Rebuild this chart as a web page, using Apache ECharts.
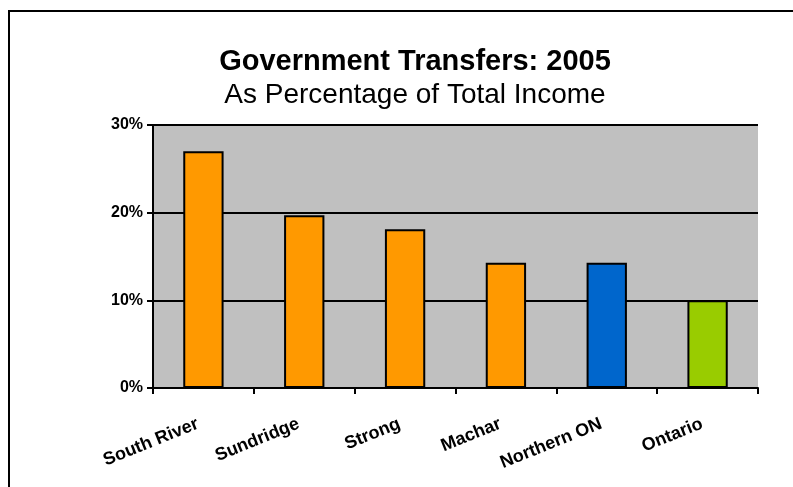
<!DOCTYPE html>
<html>
<head>
<meta charset="utf-8">
<script src="https://cdn.jsdelivr.net/npm/echarts@6/dist/echarts.min.js"></script>
<style>
html,body{margin:0;padding:0;background:#fff;}
#c{width:793px;height:487px;}
</style>
</head>
<body>
<div id="c"></div>
<script>
const categories = ['South River', 'Sundridge', 'Strong', 'Machar', 'Northern ON', 'Ontario'];
const values = [27.0, 19.7, 18.1, 14.3, 14.3, 10.0];
const barColors = ['#FF9900', '#FF9900', '#FF9900', '#FF9900', '#0066CC', '#99CC00'];
const yTicks = [0, 10, 20, 30];

const chart = echarts.init(document.getElementById('c'));
chart.setOption({
  animation: false,
  backgroundColor: '#ffffff',
  title: [
    { text: 'Government Transfers: 2005', left: 410, textAlign: 'center', top: 42,
      textStyle: { fontFamily: 'Liberation Sans, Arial', fontWeight: 'bold', fontSize: 29, color: '#000' } },
    { text: 'As Percentage of Total Income', left: 410, textAlign: 'center', top: 76,
      textStyle: { fontFamily: 'Liberation Sans, Arial', fontWeight: 'normal', fontSize: 28, color: '#000' } }
  ],
  graphic: [
    { type: 'rect', shape: { x: 9, y: 11, width: 800, height: 500 },
      style: { fill: 'none', stroke: '#000', lineWidth: 2 }, z: -1 }
  ],
  grid: { left: 153, right: 35, top: 125, bottom: 99, backgroundColor: '#C0C0C0', show: true, borderWidth: 0 },
  xAxis: {
    type: 'category',
    data: categories,
    axisLine: { show: true, lineStyle: { color: '#000', width: 2 } },
    axisTick: { show: true, length: 6, lineStyle: { color: '#000', width: 2 } },
    axisLabel: { rotate: 22, margin: 33, color: '#000', fontFamily: 'Liberation Sans, Arial', fontWeight: 'bold', fontSize: 18,
      padding: [0, 6, 0, 0] }
  },
  yAxis: {
    type: 'value',
    min: 0, max: 30, interval: 10,
    axisLine: { show: true, lineStyle: { color: '#000', width: 2 } },
    axisTick: { show: true, length: 6, lineStyle: { color: '#000', width: 2 } },
    axisLabel: { formatter: v => v + '%', margin: 10, color: '#000', fontFamily: 'Liberation Sans, Arial', fontWeight: 'bold', fontSize: 16 },
    splitLine: { show: true, lineStyle: { color: '#000', width: 2 } }
  },
  series: [{
    type: 'bar',
    data: values.map((v, i) => ({ value: v, itemStyle: { color: barColors[i] } })),
    barWidth: '40%',
    itemStyle: { borderColor: '#000', borderWidth: 2 }
  }]
});
</script>
</body>
</html>
